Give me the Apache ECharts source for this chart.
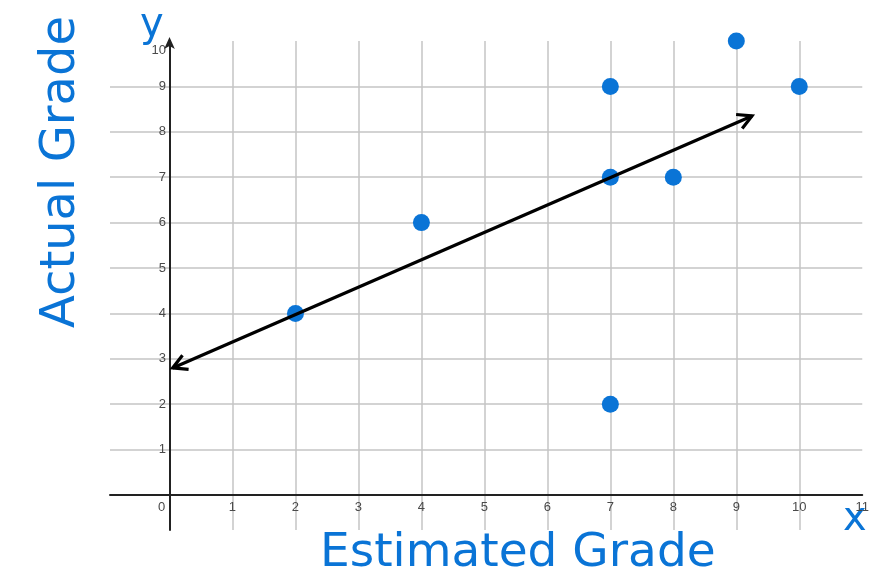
<!DOCTYPE html>
<html>
<head>
<meta charset="utf-8">
<script src="https://cdn.jsdelivr.net/npm/echarts@6/dist/echarts.min.js"></script>
<style>
  html, body { margin: 0; padding: 0; background: #fff; }
  #scatterChart { width: 872px; height: 581px; }
</style>
</head>
<body>
<div id="scatterChart"></div>
<script>
// 数据
const estimated = [2, 4, 7, 7, 7, 8, 9, 10]
const actual = [4, 6, 2, 7, 9, 7, 10, 9]
const trendStart = [0.05, 2.8]
const trendEnd = [9.25, 8.35]
const xTickLabels = ['0', '1', '2', '3', '4', '5', '6', '7', '8', '9', '10', '11']
const yTickLabels = ['1', '2', '3', '4', '5', '6', '7', '8', '9', '10']

const blue = '#0a74d6'
const handFont = 'DejaVu Sans'

const chart = echarts.init(document.getElementById('scatterChart'))

const option = {
  backgroundColor: '#fff',
  animation: false,
  grid: {
    left: 110,
    right: 4,
    top: 41,
    bottom: 51
  },
  xAxis: {
    type: 'value',
    min: -0.945,
    max: 11,
    minInterval: 1,
    maxInterval: 1,
    axisLine: {
      onZero: true,
      lineStyle: { color: '#222', width: 2 }
    },
    axisTick: { show: false },
    axisLabel: {
      color: '#4a4a4a',
      fontFamily: 'Liberation Sans',
      fontSize: 13,
      margin: -29,
      showMinLabel: false,
      formatter: (v) => {
        if (v === 0) return '{z|0}'
        return xTickLabels.includes(String(v)) ? String(v) : ''
      },
      rich: {
        z: { padding: [0, 16, 0, 0], color: '#4a4a4a', fontFamily: 'Liberation Sans', fontSize: 13 }
      }
    },
    splitLine: {
      show: true,
      showMinLine: false,
      showMaxLine: false,
      lineStyle: { color: '#c4c4c4', width: 1.5 }
    }
  },
  yAxis: {
    type: 'value',
    min: -0.77,
    max: 10,
    minInterval: 1,
    maxInterval: 1,
    axisLine: {
      onZero: true,
      symbol: ['none', 'arrow'],
      symbolSize: [8, 12],
      symbolOffset: [0, 4],
      lineStyle: { color: '#222', width: 2 }
    },
    axisTick: { show: false },
    axisLabel: {
      color: '#4a4a4a',
      fontFamily: 'Liberation Sans',
      fontSize: 13,
      margin: -56,
      showMinLabel: false,
      formatter: (v) => {
        if (v === 10) return '{t|10}'
        return yTickLabels.includes(String(v)) ? String(v) : ''
      },
      rich: {
        t: { padding: [18, 0, 0, 0], color: '#4a4a4a', fontFamily: 'Liberation Sans', fontSize: 13 }
      }
    },
    splitLine: {
      show: true,
      showMinLine: false,
      showMaxLine: false,
      lineStyle: { color: '#c4c4c4', width: 1.5 }
    }
  },
  series: [
    {
      type: 'scatter',
      data: estimated.map((x, i) => [x, actual[i]]),
      symbolSize: 17,
      itemStyle: { color: blue, opacity: 1 },
      z: 3
    },
    {
      type: 'custom',
      clip: false,
      data: [[trendStart[0], trendStart[1], trendEnd[0], trendEnd[1]]],
      encode: { x: [0, 2], y: [1, 3] },
      renderItem(params, api) {
        const p0 = api.coord([api.value(0), api.value(1)])
        const p1 = api.coord([api.value(2), api.value(3)])
        const a = Math.atan2(p1[1] - p0[1], p1[0] - p0[0])
        const L = 16
        const s = 0.5
        const head = (p, dir) => [
          [p[0] - dir * L * Math.cos(a + s), p[1] - dir * L * Math.sin(a + s)],
          p,
          [p[0] - dir * L * Math.cos(a - s), p[1] - dir * L * Math.sin(a - s)]
        ]
        const style = { stroke: '#000', lineWidth: 3.2, fill: null, lineJoin: 'miter' }
        return {
          type: 'group',
          children: [
            { type: 'line', shape: { x1: p0[0], y1: p0[1], x2: p1[0], y2: p1[1] }, style },
            { type: 'polyline', shape: { points: head(p1, 1) }, style },
            { type: 'polyline', shape: { points: head(p0, -1) }, style }
          ]
        }
      },
      z: 4
    }
  ],
  graphic: [
    {
      type: 'text',
      x: 86,
      y: 328,
      rotation: Math.PI / 2,
      style: {
        text: 'Actual Grade',
        fill: blue,
        font: '48px "' + handFont + '"',
        textAlign: 'left',
        textVerticalAlign: 'bottom'
      }
    },
    {
      type: 'text',
      x: 140,
      y: 6,
      style: { text: 'y', fill: blue, font: '40px "' + handFont + '"' }
    },
    {
      type: 'text',
      x: 320,
      y: 530,
      style: { text: 'Estimated Grade', fill: blue, font: '47px "' + handFont + '"' }
    },
    {
      type: 'text',
      x: 843,
      y: 500,
      style: { text: 'x', fill: blue, font: '40px "' + handFont + '"' }
    }
  ]
}

chart.setOption(option, true)
</script>
</body>
</html>
